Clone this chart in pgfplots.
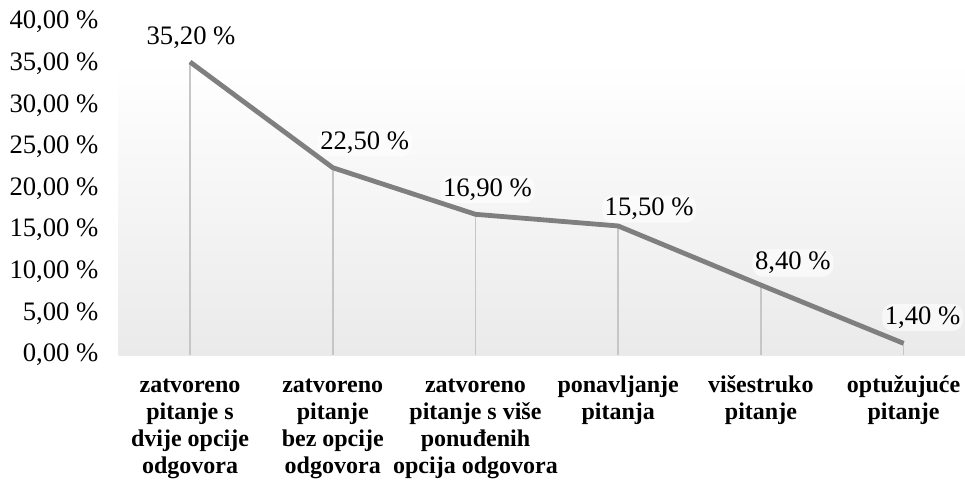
\documentclass[border=0pt]{standalone}
\usepackage{pgfplots}
\pgfplotsset{compat=1.18}
\usepackage{fontspec}
\setmainfont{Liberation Serif}
\definecolor{linegray}{HTML}{7F7F7F}
\definecolor{dropgray}{HTML}{C6C6C6}
\definecolor{axgray}{HTML}{D4D4D4}
\definecolor{bgbottom}{HTML}{EAEAEA}
\begin{document}
\begin{tikzpicture}
\useasboundingbox (-89pt,-96.75pt) rectangle (634.7pt,266.25pt);
\begin{axis}[
  at={(0,0)}, anchor=south west,
  scale only axis, width=634.7pt, height=249.75pt,
  xmin=-0.5, xmax=5.43, ymin=0, ymax=40,
  axis x line*=bottom, axis y line*=left,
  x axis line style={draw=axgray, line width=1.5pt, -},
  y axis line style={draw=none},
  major tick length=0pt,
  ytick={0,5,...,40},
  yticklabel={\pgfmathprintnumber[fixed,fixed zerofill,precision=2,use comma,assume math mode=true]{\tick}~\%},
  yticklabel style={font=\fontsize{20}{22}\selectfont, inner sep=0pt, xshift=-15pt, anchor=east},
  xtick={0,1,2,3,4,5},
  xticklabels={{zatvoreno\\pitanje s\\dvije opcije\\odgovora},
               {zatvoreno\\pitanje\\bez opcije\\odgovora},
               {zatvoreno\\pitanje s više\\ponuđenih\\opcija odgovora},
               {ponavljanje\\pitanja},
               {višestruko\\pitanje},
               {optužujuće\\pitanje}},
  typeset ticklabels with strut,
  xticklabel style={font=\bfseries\fontsize{18}{20.25}\selectfont, align=center, inner sep=0pt, anchor=north, yshift=-13.5pt},
  clip=false,
]
\fill[top color=white, bottom color=bgbottom] (axis cs:-0.5,0) rectangle (axis cs:5.43,35.1);
\addplot[ycomb, draw=dropgray, line width=1.3pt, no marks] table[x=x, y=y] {
x y
0 35.2
1 22.5
2 16.9
3 15.5
4 8.4
5 1.4
};
\addplot[draw=linegray, line width=3.6pt, no marks, line join=round,
  point meta=y,
  visualization depends on={\thisrow{dx} \as \dx},
  visualization depends on={\thisrow{dy} \as \dy},
  nodes near coords={\pgfmathprintnumber[fixed,fixed zerofill,precision=2,use comma,assume math mode=true]{\pgfplotspointmeta}~\%},
  nodes near coords style={font=\fontsize{20}{22}\selectfont, text=black, anchor=center, inner sep=2pt, fill=white, fill opacity=0.6, text opacity=1, rounded corners=8pt, xshift=\dx pt, yshift=\dy pt},
] table[x=x, y=y] {
x y dx dy
0 35.2 0.75 18
1 22.5 24 18.75
2 16.9 9 18.5
3 15.5 23.25 12.75
4 8.4 24 16.5
5 1.4 14.25 19.5
};
\end{axis}
\end{tikzpicture}
\end{document}
